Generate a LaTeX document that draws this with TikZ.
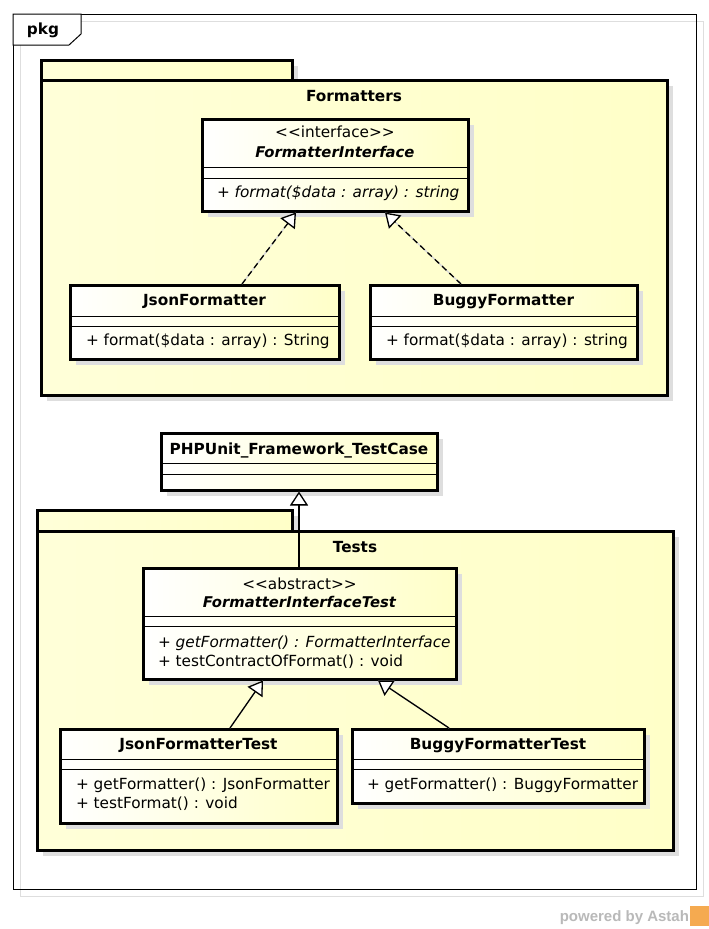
\documentclass[tikz,border=0pt]{standalone}
\usepackage{fontspec}
\setmainfont{DejaVu Sans}
\newfontfamily\astahfont{Liberation Sans}
\usetikzlibrary{arrows.meta,shadows}
\definecolor{ylw}{RGB}{255,255,200}
\definecolor{shd}{RGB}{222,222,222}
\definecolor{ashd}{RGB}{215,215,215}
\definecolor{astahgray}{RGB}{185,185,185}
\definecolor{astahorange}{RGB}{245,170,80}
\begin{document}
\begin{tikzpicture}[x=1pt,y=-1pt,
  every node/.style={inner sep=0pt,outer sep=0pt},
  txt/.style={font=\fontsize{15.3}{19}\selectfont,anchor=mid},
  btxt/.style={font=\fontsize{15.3}{19}\selectfont\bfseries,anchor=mid},
  bitxt/.style={font=\fontsize{14.8}{19}\selectfont\bfseries\itshape,anchor=mid},
  mtxt/.style={font=\fontsize{15.3}{19}\selectfont,anchor=mid west},
  mitxt/.style={font=\fontsize{15.3}{19}\selectfont\itshape,anchor=mid west},
  boxshadow/.style={drop shadow={shadow xshift=6pt,shadow yshift=-6pt,fill=shd,opacity=1}},
  cls/.style={draw=black,line width=3pt,left color=white,right color=ylw,boxshadow},
  pkgbox/.style={draw=black,line width=3pt,left color=white!30!ylw,right color=ylw,boxshadow},
  sep/.style={draw=black,line width=1pt},
  gen/.style={draw=black,line width=1.3pt,-{Triangle[open,fill=white,length=14pt,width=18pt]}},
  genshadow/.style={draw=ashd,line width=1.3pt,-{Triangle[open,fill=white,length=14pt,width=18pt]}},
  real/.style={gen,dash pattern=on 6pt off 4pt},
]
\useasboundingbox (0,0) rectangle (709,929);
\fill[white] (0,0) rectangle (709,929);
% outer frame
\draw[shd,line width=1pt] (20,21) rectangle (703,896);
\draw[black,line width=1pt] (13,14) rectangle (696,889);
\draw[black,line width=1pt,fill=white] (13,14) -- (81,14) -- (81,34) -- (69,45) -- (13,45) -- cycle;
\node[btxt] (pkg) at (43,32) {pkg};

% Formatters package
\node[pkgbox,minimum width=251pt,minimum height=20pt] (ftab) at (166.5,70) {};
\node[pkgbox,minimum width=626pt,minimum height=315pt] (fbody) at (354,237.5) {};
\node[btxt] (fname) at (354,99) {Formatters};

% Tests package
\node[pkgbox,minimum width=255pt,minimum height=21pt] (ttab) at (164.5,520.5) {};
\node[pkgbox,minimum width=636pt,minimum height=319pt] (tbody) at (355,690.5) {};
\node[btxt] (tname) at (355,550) {Tests};

% FormatterInterface
\node[cls,minimum width=266pt,minimum height=92pt] (fi) at (335,165) {};
\node[txt] (fis) at (335,135) {<{}<interface>{}>};
\node[bitxt] (fin) at (335,155) {FormatterInterface};
\draw[sep] (202,167) -- (468,167);
\draw[sep] (202,178) -- (468,178);
\node[mitxt] (fim) at (217,195) {+ format(\$data : array) : string};

% JsonFormatter
\node[cls,minimum width=269pt,minimum height=74pt] (jf) at (204.5,322) {};
\node[btxt] (jfn) at (204.5,303) {JsonFormatter};
\draw[sep] (70,316) -- (339,316);
\draw[sep] (70,326) -- (339,326);
\node[mtxt] (jfm) at (86,343) {+ format(\$data : array) : String};

% BuggyFormatter
\node[cls,minimum width=267pt,minimum height=74pt] (bf) at (503.5,322) {};
\node[btxt] (bfn) at (503.5,303) {BuggyFormatter};
\draw[sep] (370,316) -- (637,316);
\draw[sep] (370,326) -- (637,326);
\node[mtxt] (bfm) at (386,343) {+ format(\$data : array) : string};

% PHPUnit_Framework_TestCase
\node[cls,minimum width=276pt,minimum height=57pt] (php) at (299,461.5) {};
\node[btxt] (phpn) at (299,452) {PHPUnit\_Framework\_TestCase};
\draw[sep] (161,463) -- (437,463);
\draw[sep] (161,474) -- (437,474);

% FormatterInterfaceTest
\node[cls,minimum width=313pt,minimum height=111pt] (fit) at (299.5,623.5) {};
\node[txt] (fits) at (299.5,587) {<{}<abstract>{}>};
\node[bitxt] (fitn) at (299.5,605) {FormatterInterfaceTest};
\draw[sep] (143,616) -- (456,616);
\draw[sep] (143,626) -- (456,626);
\node[mitxt] (fitm1) at (158,645) {+ getFormatter() : FormatterInterface};
\node[mtxt] (fitm2) at (158,664) {+ testContractOfFormat() : void};

% JsonFormatterTest
\node[cls,minimum width=277pt,minimum height=94pt] (jft) at (198.5,776) {};
\node[btxt] (jftn) at (198.5,747) {JsonFormatterTest};
\draw[sep] (60,759) -- (337,759);
\draw[sep] (60,769) -- (337,769);
\node[mtxt] (jftm1) at (76,787) {+ getFormatter() : JsonFormatter};
\node[mtxt] (jftm2) at (76,806) {+ testFormat() : void};

% BuggyFormatterTest
\node[cls,minimum width=292pt,minimum height=74pt] (bft) at (498,766) {};
\node[btxt] (bftn) at (498,747) {BuggyFormatterTest};
\draw[sep] (352,759) -- (644,759);
\draw[sep] (352,769) -- (644,769);
\node[mtxt] (bftm) at (367,787) {+ getFormatter() : BuggyFormatter};

% connector end points
\coordinate (a1s) at (242,284);
\coordinate (a1e) at (296,212.5);
\coordinate (a2s) at (461,284);
\coordinate (a2e) at (385,212.5);
\coordinate (a3s) at (299,567);
\coordinate (a3e) at (299,491.5);
\coordinate (a4s) at (230,728);
\coordinate (a4e) at (263,680.5);
\coordinate (a5s) at (449,728);
\coordinate (a5e) at (378,680.5);

% connector shadows
\begin{scope}[shift={(5,4)}]
\draw[genshadow] (a1s) -- (a1e);
\draw[genshadow] (a2s) -- (a2e);
\draw[genshadow] (a3s) -- (a3e);
\draw[genshadow] (a4s) -- (a4e);
\draw[genshadow] (a5s) -- (a5e);
\end{scope}
% connectors
\draw[real] (a1s) -- (a1e);
\draw[real] (a2s) -- (a2e);
\draw[gen] (a3s) -- (a3e);
\draw[gen] (a4s) -- (a4e);
\draw[gen] (a5s) -- (a5e);

% powered by
\node[font=\astahfont\fontsize{15}{18}\selectfont\bfseries,text=astahgray,anchor=base east] (pwr) at (689,921) {powered by Astah};
\fill[astahorange] (690,906) rectangle (709,926);
\end{tikzpicture}
\end{document}
